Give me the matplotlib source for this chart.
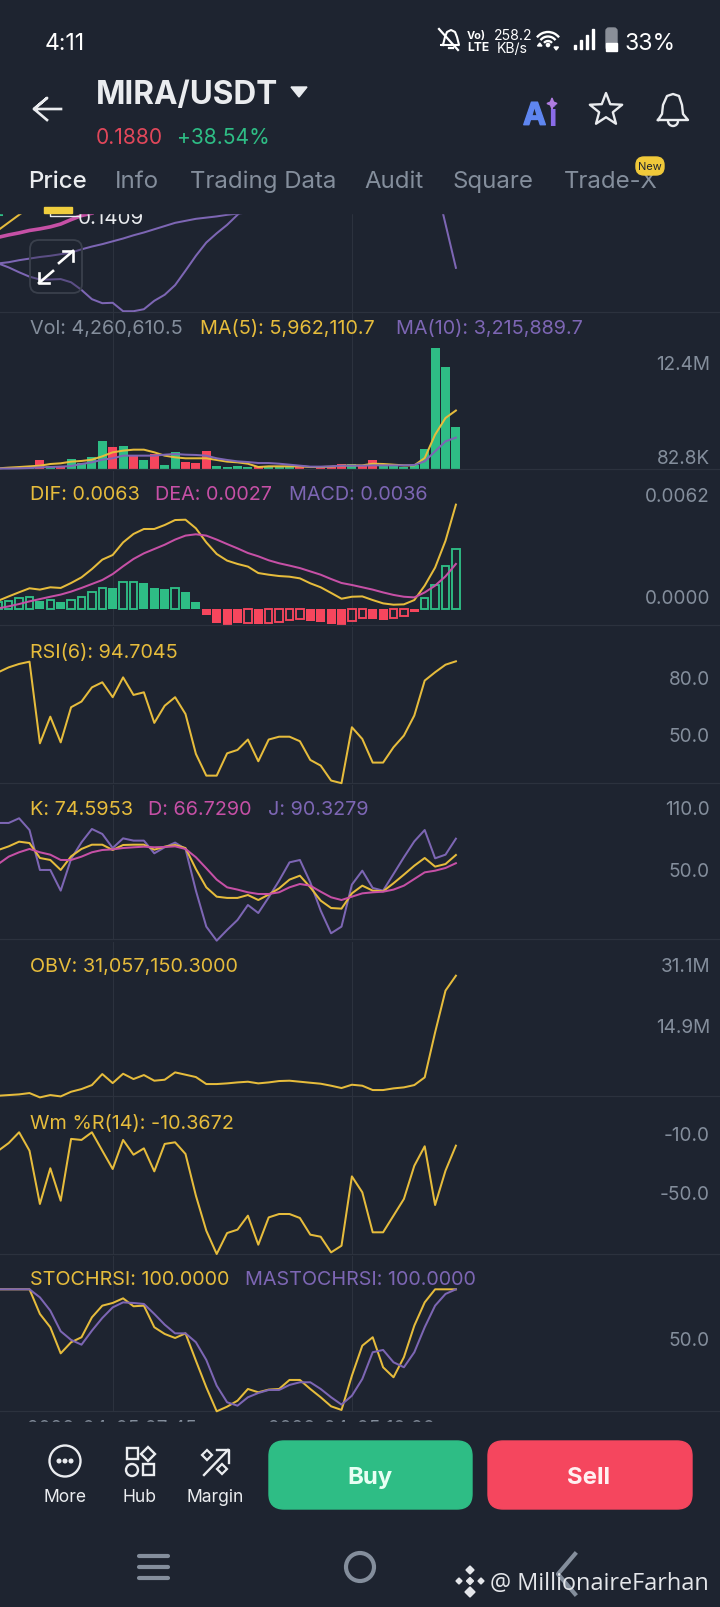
import matplotlib
matplotlib.use('Agg')
import matplotlib.pyplot as plt
import matplotlib.patheffects as pe
from matplotlib.patches import FancyBboxPatch, Rectangle, Circle, Arc, Polygon
import numpy as np

W, H = 720, 1608
plt.rcParams['font.family'] = ['Inter', 'DejaVu Sans']

BG = '#1E2430'
GRID = '#2C323E'
GRAY = '#848E9C'
YELLOW = '#E6BC3C'
PINK = '#C650A6'
PURPLE = '#7D66B4'
GREEN = '#2EBD85'
RED = '#F6465D'
WHITE = '#EAECEF'

# candle index of the two vertical grid lines
grid_idx = [11, 34]

# price panel (only the bottom of it is visible)
boll_up = [.1286, .1289, .1294, .1298, .1302, .1305, .1309, .1313, .1321, .1328, .1334, .1341, .1348,
           .1356, .1363, .1371, .1379, .1387, .1392, .1397, .1400, .1403, .1407, .1410, .1413]
boll_low = [.1286, .1276, .1264, .1253, .1246, .1246, .1247, .1239, .1220, .1197, .1187, .1188, .1167,
            .1167, .1172, .1193, .1208, .1232, .1268, .1305, .1338, .1361, .1382, .1407, .1430]
price_ma = [.1351, .1357, .1362, .1368, .1372, .1377, .1384, .1395, .1405, .1411]
price_ma2 = [.1369, .1388, .1407, .1425]
boll_end_idx = [42, 43, 44]
boll_end = [.1493, .1384, .1275]

# volume, millions
vol = [.05, .06, .08, .12, .95, .34, .34, 1.02, .61, 1.19, 2.86, 2.21, 2.31, 1.36, .88, 1.53, .44, 1.77,
       .75, .61, 1.80, .34, .24, .27, .17, .34, .2, .2, .2, .34, .05, .27, .27, .54, .54, .34, .92, .34,
       .34, .2, .44, 2.04, 12.35, 10.4, 4.26]
vol_red = [4, 6, 11, 13, 15, 18, 19, 20, 25, 29, 30, 31, 32, 33, 35, 36]
vol_ma5 = [.07, .14, .2, .27, .34, .51, .58, .75, .82, .95, 1.29, 1.70, 1.87, 1.97, 1.97, 1.70, 1.36, 1.19,
           1.09, 1.09, 1.09, .92, .75, .68, .54, .2, .27, .27, .27, .27, .2, .2, .24, .34, .37, .37, .54,
           .51, .44, .37, .37, 1.12, 3.5, 5.2, 5.96]
vol_ma10 = [.05, .05, .07, .1, .17, .2, .24, .3, .51, .68, .95, 1.09, 1.36, 1.36, 1.36, 1.36, 1.46, 1.53,
            1.46, 1.43, 1.36, 1.09, .92, .78, .71, .61, .61, .54, .44, .34, .24, .24, .27, .34, .34, .34,
            .37, .37, .37, .37, .41, .78, 1.8, 2.82, 3.2]

# MACD, in units of 0.001
dif = [.50, .76, 1.01, 1.25, 1.17, 1.31, 1.27, 1.57, 1.91, 2.41, 2.98, 3.26, 4.02, 4.53, 4.83, 4.83, 5.07,
       5.37, 5.39, 4.87, 4.02, 3.32, 2.92, 2.72, 2.56, 2.17, 2.07, 1.99, 1.95, 1.85, 1.55, 1.31, .97, .62,
       .74, .76, .54, .34, .26, .28, .54, 1.41, 2.5, 4.12, 6.3]
dea = [.04, .16, .30, .46, .60, .74, .87, 1.05, 1.27, 1.51, 1.75, 2.11, 2.58, 3.02, 3.36, 3.62, 3.88, 4.19,
       4.43, 4.51, 4.43, 4.19, 3.92, 3.66, 3.38, 3.18, 2.94, 2.76, 2.62, 2.47, 2.27, 2.07, 1.81, 1.57, 1.45,
       1.31, 1.17, 1.0, .85, .74, .70, 1.0, 1.41, 1.97, 2.72]
macd = [.4, .46, .64, .74, .5, .56, .4, .56, .74, 1.0, 1.27, 1.25, 1.65, 1.65, 1.59, 1.27, 1.19, 1.25, 1.0,
        .4, -.34, -.85, -.95, -.87, -.87, -.92, -.85, -.76, -.64, -.6, -.7, -.8, -.9, -.97, -.7, -.56, -.6,
        -.64, -.56, -.4, -.2, .66, 1.47, 2.58, 3.6]
macd_hollow = [0, 1, 2, 3, 5, 7, 8, 9, 10, 12, 13, 17, 24, 26, 27, 28, 29, 34, 35, 38, 39, 41, 42, 43, 44]

rsi = [88.9, 91.5, 93.3, 94.5, 51.3, 65.4, 51.8, 70.4, 73.4, 80.9, 83.6, 75.7, 86.2, 76.9, 78.3, 62.1, 71.2,
       75.7, 66.8, 45.7, 34.2, 34.2, 46.0, 47.8, 53.3, 41.8, 53.3, 54.8, 54.8, 52.4, 42.5, 39.5, 31.6, 30.2,
       59.8, 53.6, 41.1, 41.1, 49.2, 55.4, 66.0, 84.5, 88.9, 92.9, 94.7]

k_line = [79.4, 82.9, 87.4, 86.1, 71.7, 69.8, 60.2, 73.3, 80.4, 84.5, 84.5, 79.4, 84.2, 84.5, 84.5, 79.7, 82.6,
          84.2, 81.3, 61.1, 43.5, 34.5, 33.3, 33.3, 36.1, 31.3, 36.5, 42.5, 50.9, 54.7, 43.5, 30.7, 23.6, 23.0,
          37.7, 45.1, 40.3, 39.7, 47.4, 55.7, 64.3, 71.7, 63.4, 65.9, 74.6]
d_line = [65.9, 73, 77.2, 80.4, 77.2, 74.9, 69.8, 69.8, 73, 77.2, 79.4, 80, 81.3, 82, 82.6, 82, 82.3, 82.9, 80.4,
          72.4, 61.8, 50.9, 43.5, 41.3, 38.7, 37.1, 37.1, 38.7, 43.5, 46.7, 45.1, 39.3, 33.9, 31.3, 34.5, 37.7,
          38.7, 39.3, 41.3, 45.1, 51.5, 57.9, 59.5, 62.1, 66.7]
j_line = [105.4, 105.4, 109.9, 98.6, 60.2, 60.2, 40.3, 70.8, 86.8, 99.6, 94.8, 81.3, 90.6, 88.4, 88.4, 76.2, 82,
          86.5, 80.4, 40.3, 5.7, -7.8, 2.5, 12.1, 26.5, 18.8, 33.9, 49.9, 67.5, 69.8, 48.3, 21.1, -.7, 5.7, 46.1,
          59.5, 42.9, 40.3, 56.3, 72.4, 87.7, 98.6, 71.4, 74.9, 90.3]

# OBV, millions
obv = [-.8, -.62, -.44, -.09, -1.24, -.62, -.98, .26, .97, 2.03, 4.95, 2.56, 5.04, 3.63, 4.69, 3.19, 3.45, 5.40,
       4.78, 4.16, 2.30, 2.3, 2.48, 2.74, 2.92, 2.48, 2.74, 3.10, 3.19, 2.92, 2.65, 2.39, 1.86, 1.24, 2.12, 1.86,
       .71, .71, 1.15, 1.42, 2.03, 4.07, 16.0, 27.1, 31.06]

wr = [-13.8, -8.6, -1.3, -13.8, -49.9, -25.7, -47.7, -5.8, -6.5, -1.3, -13.8, -26.2, -6.5, -16.5, -12.2, -27.8,
      -9.2, -8.1, -16.0, -44.3, -68.0, -83.8, -69.6, -67.3, -57.8, -77.5, -59.0, -56.7, -56.7, -59.4, -70.7,
      -72.1, -82.7, -78.2, -31.2, -42.0, -69.1, -69.1, -57.8, -46.5, -24.0, -10.8, -50.6, -27.3, -10.37]

stoch = [100, 100, 100, 100, 79.8, 68.9, 47.5, 56.6, 60.7, 77.0, 86.6, 88.8, 92.6, 86.1, 86.6, 68.9, 63.4, 60.1,
         63.9, 41.5, 19.7, 0, 3.8, 8.7, 18.3, 15.6, 17.8, 18.3, 25.7, 25.7, 18.3, 11.5, 4.1, 1.1, 29.2, 53.8, 60.7,
         36.1, 27.9, 44.3, 70.2, 89.3, 100, 100, 100]
stoch_ma = [100, 100, 100, 100, 93.4, 82.5, 65.6, 58.5, 54.6, 66.1, 76.5, 85.2, 89.3, 88.8, 88.0, 79.8, 71.0, 63.9,
            63.9, 56.6, 42.1, 21.0, 7.4, 4.6, 11.5, 15.0, 17.5, 17.5, 21.6, 23.8, 23.8, 18.3, 11.5, 5.5, 12.8, 26.5,
            48.4, 50.3, 40.2, 36.1, 48.4, 68.9, 86.6, 96.2, 100]

time_labels = ['2026-04-05 07:45', '2026-04-05 10:00']
tabs = ['Price', 'Info', 'Trading Data', 'Audit', 'Square', 'Trade-X']

fig = plt.figure(figsize=(W / 100, H / 100), dpi=100, facecolor=BG)

# candle i sits at 455.9 - (44 - i) * 10.4 px
x_lo = 44 - 455.9 / 10.4
x_hi = 44 + (W - 455.9) / 10.4
idx = np.arange(45)
BAR = 0.86


def panel(top, bottom, y_lo, y_hi):
    ax = fig.add_axes([0, 1 - bottom / H, 1, (bottom - top) / H], facecolor='none')
    ax.set_xlim(x_lo, x_hi)
    ax.set_ylim(y_lo, y_hi)
    ax.set_xticks([])
    ax.set_yticks([])
    for s in ['left', 'right', 'top']:
        ax.spines[s].set_visible(False)
    ax.spines['bottom'].set_color(GRID)
    ax.spines['bottom'].set_linewidth(0.9)
    for g in grid_idx:
        ax.axvline(g, color=GRID, lw=0.8, zorder=0)
    return ax


def line(ax, y, color, lw=1.45, x=None, clip=False):
    x = idx[:len(y)] if x is None else x
    ax.plot(x, y, color=color, lw=lw, clip_on=clip, solid_joinstyle='round', zorder=3)


# price
ax = panel(214, 312.7, .11658, .14115)
ax.spines['top'].set_visible(True)
ax.spines['top'].set_color(GRID)
ax.bar(0, .0008, bottom=.1404, width=BAR, color=GREEN, zorder=2)
line(ax, boll_up, PURPLE, clip=True)
line(ax, boll_low, PURPLE, clip=True)
line(ax, price_ma, PINK, lw=2.6, clip=True)
line(ax, price_ma2, YELLOW, clip=True)
line(ax, boll_end, PURPLE, x=boll_end_idx, clip=True)

# volume
ax = panel(314, 470, 0, 15.9)
vol_col = [RED if i in vol_red else GREEN for i in idx]
ax.bar(idx, vol, width=BAR, color=vol_col, zorder=2)
line(ax, vol_ma5, YELLOW)
line(ax, vol_ma10, PURPLE)

# macd
ax = panel(472, 626, -.966, 8.33)
for i, v in zip(idx, macd):
    c = GREEN if v > 0 else RED
    if i in macd_hollow:
        ax.bar(i, v, width=BAR - .14, facecolor='none', edgecolor=c, linewidth=1.35, zorder=2)
    else:
        ax.bar(i, v, width=BAR, color=c, zorder=2)
line(ax, dif, YELLOW)
line(ax, dea, PINK)

# rsi
ax = panel(628, 784, 30.3, 112.85)
line(ax, rsi, YELLOW)

# kdj
ax = panel(786, 940, -6.2, 141.9)
line(ax, j_line, PURPLE)
line(ax, k_line, YELLOW)
line(ax, d_line, PINK)

# obv
ax = panel(943, 1097, -.87, 40.0)
line(ax, obv, YELLOW)

# williams
ax = panel(1098, 1255, -83.8, 22.6)
line(ax, wr, YELLOW)

# stoch rsi
ax = panel(1257, 1412, .25, 127.3)
line(ax, stoch, YELLOW)
line(ax, stoch_ma, PURPLE)

# everything else is drawn in pixel coordinates on top
ov = fig.add_axes([0, 0, 1, 1], facecolor='none')
ov.set_xlim(0, W)
ov.set_ylim(H, 0)
ov.axis('off')


def txt(x, y, s, size=19.8, color=WHITE, ha='left', weight='normal', z=5, **kw):
    # va center sits a bit high for this font
    return ov.text(x, y + size * 0.12, s, fontsize=size * 0.72, color=color, ha=ha, va='center',
                   fontweight=weight, zorder=z, **kw)


# the text in the clipped strips goes under the two covers
txt(78, 217, '0.1409', size=20.5, z=1)
for t, x in zip(time_labels, [27, 268]):
    txt(x, 1427, t, size=19, color=GRAY, z=1)
ov.add_patch(Rectangle((0, 0), W, 213.5, color=BG, zorder=2))
ov.add_patch(Rectangle((0, 1423), W, H - 1423, color=BG, zorder=2))
ov.plot([50, 50, 80], [214, 216.5, 216.5], color=WHITE, lw=1, zorder=3)
ov.add_patch(Rectangle((43.6, 208), 28.4, 6, color='#F0CE3E', zorder=3))

# expand button
ov.add_patch(FancyBboxPatch((30, 241), 52, 53, boxstyle='round,pad=0,rounding_size=9', facecolor=BG, alpha=.35,
                            edgecolor='none', zorder=3))
ov.add_patch(FancyBboxPatch((30, 241), 52, 53, boxstyle='round,pad=0,rounding_size=9', facecolor='none',
                            edgecolor='#3A404C', lw=1.3, zorder=3))
ov.plot([59, 73], [264, 252], color='white', lw=1.9, zorder=4)
ov.plot([63, 73, 73], [252, 252, 262], color='white', lw=1.9, zorder=4)
ov.plot([53, 39], [272, 284], color='white', lw=1.9, zorder=4)
ov.plot([39, 39, 49], [274, 284, 284], color='white', lw=1.9, zorder=4)

# panel legends
txt(30, 327, 'Vol: 4,260,610.5', color=GRAY)
txt(200, 327, 'MA(5): 5,962,110.7', color=YELLOW)
txt(396, 327, 'MA(10): 3,215,889.7', color=PURPLE)
txt(30, 493, 'DIF: 0.0063', color=YELLOW)
txt(155, 493, 'DEA: 0.0027', color=PINK)
txt(289, 493, 'MACD: 0.0036', color=PURPLE)
txt(30, 651, 'RSI(6): 94.7045', color=YELLOW)
txt(30, 808, 'K: 74.5953', color=YELLOW)
txt(148, 808, 'D: 66.7290', color=PINK)
txt(268, 808, 'J: 90.3279', color=PURPLE)
txt(30, 965, 'OBV: 31,057,150.3000', color=YELLOW)
txt(30, 1122, 'Wm %R(14): -10.3672', color=YELLOW)
txt(30, 1278, 'STOCHRSI: 100.0000', color=YELLOW)
txt(245, 1278, 'MASTOCHRSI: 100.0000', color=PURPLE)

# right side scale labels
for y, s in [(363, '12.4M'), (457, '82.8K'), (495, '0.0062'), (597, '0.0000'), (678, '80.0'), (735, '50.0'),
             (808, '110.0'), (870, '50.0'), (965, '31.1M'), (1026, '14.9M'), (1134, '-10.0'), (1193, '-50.0'),
             (1339, '50.0')]:
    txt(710, y, s, color=GRAY, ha='right', size=19)

# status bar
txt(45, 41, '4:11', size=23, color='white')
txt(625, 41, '33%', size=23, color='white')
txt(494, 34, '258.2', size=14, color='white')
txt(497, 47, 'KB/s', size=14, color='white')
txt(467, 35, 'Vo)', size=11, color='white', weight='bold')
txt(467, 47, 'LTE', size=12, color='white', weight='bold')
# muted bell
ov.plot([443, 445, 447, 451, 455, 457, 459, 441, 443], [46, 38, 33, 31, 33, 38, 46, 46, 46], color='white', lw=1.5, zorder=5)
ov.plot([439, 458], [30, 51], color='white', lw=1.6, zorder=5)
ov.plot([449, 453], [49, 49], color='white', lw=1.6, zorder=5)
# wifi
for r in [5, 9.5, 14]:
    ov.add_patch(Arc((548, 47), 2 * r, 2 * r, theta1=218, theta2=322, color='white', lw=1.7, zorder=5))
ov.add_patch(Circle((548, 46), 1.6, color='white', zorder=5))
ov.add_patch(Polygon([[537.5, 47], [542, 47], [539.7, 44]], color='white', zorder=5))
ov.add_patch(Polygon([[554, 48], [558.5, 48], [556.2, 51]], color='white', zorder=5))
# signal
for x, h, in zip([573.5, 579.5, 585.5, 591.5], [4, 9, 14, 20]):
    ov.add_patch(Rectangle((x, 50 - h), 2.8, h, color='white', zorder=5))
# battery
ov.add_patch(FancyBboxPatch((606, 29), 11, 22, boxstyle='round,pad=0,rounding_size=3', color='#8A8F98', zorder=5))
ov.add_patch(Rectangle((606, 44), 11, 7.5, color='white', zorder=6))

# header
ov.plot([61, 34, 47, 34, 47], [110, 110, 99, 110, 121], color=WHITE, lw=1.9, zorder=5)
txt(96, 92, 'MIRA/USDT', size=31.5, color=WHITE, weight='bold')
ov.add_patch(Polygon([[291, 88], [307, 88], [299, 98]], color=WHITE, zorder=5))
txt(96, 135, '0.1880', size=21, color='#E0475A')
txt(177, 135, '+38.54%', size=21, color=GREEN)
bold = [pe.withStroke(linewidth=1.0, foreground='#5F86F0')]
txt(523, 114, 'A', size=31, color='#5F86F0', weight='bold', path_effects=bold)
txt(548, 114, 'i', size=31, color='#8A6CE8', weight='bold')
ov.add_patch(Polygon([[552, 99], [553.5, 103], [557, 104.5], [553.5, 106], [552, 110], [550.5, 106], [547, 104.5], [550.5, 103]],
                     color='#B07CE0', zorder=6))
# star
star_a = np.deg2rad(np.arange(0, 360, 36) - 90)
star_r = np.where(np.arange(10) % 2 == 0, 17, 7.2)
ov.add_patch(Polygon(np.c_[606 + star_r * np.cos(star_a), 111 + star_r * np.sin(star_a)], closed=True,
                     facecolor='none', edgecolor=WHITE, lw=1.7, joinstyle='round', zorder=5))
# bell
ov.plot([658, 662, 663, 667, 673, 679, 682, 683, 688, 658], [121, 115, 106, 97, 95, 97, 106, 115, 121, 121],
        color=WHITE, lw=1.7, zorder=5)
ov.add_patch(Arc((673, 122), 10, 10, theta1=0, theta2=180, color=WHITE, lw=1.7, zorder=5))

# tabs
for t, x, c, w in zip(tabs, [28, 115, 190, 364, 453, 564], [WHITE] + [GRAY] * 5, ['medium'] + ['normal'] * 5):
    txt(x, 179, t, size=24, color=c, weight=w)
ov.add_patch(FancyBboxPatch((636, 158), 28, 18, boxstyle='round,pad=0,rounding_size=8', color='#F0C93A', zorder=6))
txt(650, 166, 'New', size=11, color='#1E2430', ha='center', z=7)

# bottom bar
ov.add_patch(FancyBboxPatch((269, 1442), 203, 68, boxstyle='round,pad=0,rounding_size=15', color=GREEN, zorder=4))
ov.add_patch(FancyBboxPatch((488, 1442), 204, 68, boxstyle='round,pad=0,rounding_size=15', color='#F5465E', zorder=4))
txt(370, 1475, 'Buy', size=24, color='#E8FFF4', ha='center', weight='bold')
txt(589, 1475, 'Sell', size=24, color='#FFF0F2', ha='center', weight='bold')
txt(65, 1495, 'More', size=17.5, ha='center')
txt(140, 1495, 'Hub', size=17.5, ha='center')
txt(215, 1495, 'Margin', size=17.5, ha='center')
ov.add_patch(Circle((65, 1462), 15.5, facecolor='none', edgecolor=WHITE, lw=1.7, zorder=5))
for x in [59, 65, 71]:
    ov.add_patch(Circle((x, 1462), 1.8, color=WHITE, zorder=5))
ov.add_patch(Rectangle((127, 1449), 10.5, 11, facecolor='none', edgecolor=WHITE, lw=1.7, zorder=5))
ov.add_patch(Polygon([[148, 1448], [155, 1455], [148, 1462], [141, 1455]], facecolor='none', edgecolor=WHITE, lw=1.7, zorder=5))
ov.add_patch(Circle((132, 1471), 6, facecolor='none', edgecolor=WHITE, lw=1.7, zorder=5))
ov.add_patch(Rectangle((143, 1465), 11, 11, facecolor='none', edgecolor=WHITE, lw=1.7, zorder=5))
ov.plot([204, 228], [1476, 1451], color=WHITE, lw=1.7, zorder=5)
ov.plot([217, 229, 229], [1451, 1451, 1464], color=WHITE, lw=1.7, zorder=5)
ov.add_patch(Polygon([[207, 1451], [212, 1456], [207, 1461], [202, 1456]], facecolor='none', edgecolor=WHITE, lw=1.6, zorder=5))
ov.add_patch(Polygon([[222, 1465], [227, 1470], [222, 1475], [217, 1470]], facecolor='none', edgecolor=WHITE, lw=1.6, zorder=5))

# nav bar
for y in [1557, 1568, 1579]:
    ov.plot([139, 168], [y, y], color=GRAY, lw=3, solid_capstyle='round', zorder=5)
ov.add_patch(Circle((360, 1568), 14, facecolor='none', edgecolor=GRAY, lw=3, zorder=5))
ov.plot([575, 558, 575], [1555, 1575, 1595], color=GRAY, lw=3, zorder=5)

# watermark
txt(490, 1581, '@ MillionaireFarhan', size=23.5, color='#E4E6EA', z=8, family='Open Sans')
for cx, cy, r in [(470, 1571, 4), (459, 1582, 3), (481, 1582, 3), (470, 1582, 3.5), (470, 1593, 5)]:
    ov.add_patch(Polygon([[cx, cy - r], [cx + r, cy], [cx, cy + r], [cx - r, cy]], color='#E4E6EA', zorder=8))

fig.savefig('out.png', dpi=100, facecolor=BG)
